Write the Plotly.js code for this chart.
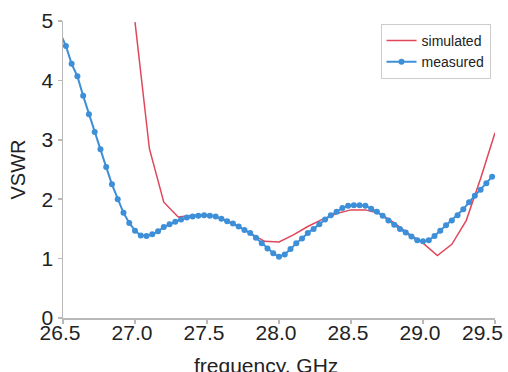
<!DOCTYPE html>
<html>
<head>
<meta charset="utf-8">
<script src="https://cdn.plot.ly/plotly-3.0.1.min.js"></script>
<style>
html,body{margin:0;padding:0;background:#fff;}
#chart{width:508px;height:372px;}
</style>
</head>
<body>
<div id="chart"></div>
<script>
// Simulated VSWR (GHz, value)
const simFreq = [27.0, 27.1, 27.2, 27.3, 27.4, 27.5, 27.6, 27.7, 27.8, 27.9, 28.0, 28.1, 28.2, 28.3, 28.4, 28.5, 28.6, 28.7, 28.8, 28.9, 29.0, 29.1, 29.2, 29.3, 29.4, 29.5];
const simVSWR = [4.98, 2.85, 1.95, 1.70, 1.73, 1.74, 1.68, 1.57, 1.43, 1.29, 1.28, 1.40, 1.54, 1.66, 1.76, 1.82, 1.82, 1.76, 1.60, 1.42, 1.26, 1.05, 1.24, 1.64, 2.35, 3.12];

// Measured VSWR (GHz, value)
const measFreq = [26.48, 26.52, 26.56, 26.60, 26.64, 26.68, 26.72, 26.76, 26.80, 26.84,
                  26.88, 26.92, 26.96, 27.00, 27.04, 27.08, 27.12, 27.16, 27.20, 27.24,
                  27.28, 27.32, 27.36, 27.40, 27.44, 27.48, 27.52, 27.56, 27.60, 27.64,
                  27.68, 27.72, 27.76, 27.80, 27.84, 27.88, 27.92, 27.96, 28.00, 28.04,
                  28.08, 28.12, 28.16, 28.20, 28.24, 28.28, 28.32, 28.36, 28.40, 28.44,
                  28.48, 28.52, 28.56, 28.60, 28.64, 28.68, 28.72, 28.76, 28.80, 28.84,
                  28.88, 28.92, 28.96, 29.00, 29.04, 29.08, 29.12, 29.16, 29.20, 29.24,
                  29.28, 29.32, 29.36, 29.40, 29.44, 29.48];
const measVSWR = [4.80, 4.58, 4.28, 4.07, 3.74, 3.43, 3.13, 2.84, 2.54, 2.25,
                  2.00, 1.77, 1.60, 1.47, 1.39, 1.38, 1.41, 1.46, 1.53, 1.58,
                  1.62, 1.66, 1.69, 1.71, 1.72, 1.73, 1.72, 1.71, 1.67, 1.63,
                  1.59, 1.54, 1.48, 1.43, 1.35, 1.26, 1.17, 1.09, 1.03, 1.07,
                  1.16, 1.26, 1.34, 1.43, 1.50, 1.58, 1.66, 1.73, 1.79, 1.85,
                  1.89, 1.90, 1.90, 1.89, 1.84, 1.79, 1.72, 1.64, 1.57, 1.50,
                  1.44, 1.37, 1.31, 1.29, 1.31, 1.38, 1.47, 1.56, 1.64, 1.73,
                  1.83, 1.95, 2.06, 2.16, 2.27, 2.38];

const xTickVals = [26.5, 27.0, 27.5, 28.0, 28.5, 29.0, 29.5];
const xTickText = ['26.5', '27.0', '27.5', '28.0', '28.5', '29.0', '29.5'];
const yTickVals = [0, 1, 2, 3, 4, 5];
const xTitle = 'frequency, GHz';
const yTitle = 'VSWR';

const FONT = 'Liberation Sans, Arial, Helvetica, sans-serif';
const TXT = '#222';

const traces = [
  {
    x: simFreq, y: simVSWR, name: 'simulated', type: 'scatter', mode: 'lines',
    line: {color: '#e0475a', width: 1.5}
  },
  {
    x: measFreq, y: measVSWR, name: 'measured', type: 'scatter', mode: 'lines+markers',
    line: {color: '#3d8fd8', width: 2},
    marker: {color: '#3d8fd8', size: 6}
  }
];

const axisCommon = {
  showgrid: false, zeroline: false, showline: true,
  linecolor: '#b8b8b8', linewidth: 1.5,
  ticks: 'outside', ticklen: 4, tickcolor: '#b8b8b8', tickwidth: 1.5,
  tickfont: {family: FONT, size: 21, color: TXT}
};

// last x tick label drawn as an annotation so it stays inside the picture
const lastTickText = xTickText[xTickText.length - 1];
const shownTickText = xTickText.map((t, i) => i === xTickText.length - 1 ? '' : t);

const layout = {
  width: 508, height: 372,
  margin: {l: 63, r: 13, t: 21, b: 54},
  paper_bgcolor: '#fff', plot_bgcolor: '#fff',
  showlegend: true,
  legend: {
    x: 0.735, y: 0.99, xanchor: 'left', yanchor: 'top',
    bgcolor: '#fff', bordercolor: '#cccccc', borderwidth: 1,
    font: {family: FONT, size: 14, color: TXT},
    itemwidth: 30, tracegroupgap: 0
  },
  xaxis: Object.assign({}, axisCommon, {
    range: [26.5, 29.5], tickvals: xTickVals, ticktext: shownTickText,
    ticklabelstandoff: -9, ticklabelshift: -3
  }),
  yaxis: Object.assign({}, axisCommon, {
    range: [0, 5], tickvals: yTickVals,
    title: {text: yTitle, font: {family: FONT, size: 20, color: TXT}, standoff: 10}
  }),
  annotations: [
    {
      text: lastTickText, xref: 'paper', yref: 'paper',
      x: 1.0231, y: 0, xanchor: 'right', yanchor: 'top', yshift: -1,
      showarrow: false, font: {family: FONT, size: 21, color: TXT}
    },
    {
      text: xTitle, xref: 'paper', yref: 'paper',
      x: 0.47, y: 0, xanchor: 'center', yanchor: 'top', yshift: -34,
      showarrow: false, font: {family: FONT, size: 21, color: TXT}
    }
  ]
};

Plotly.newPlot('chart', traces, layout, {staticPlot: true, displayModeBar: false});
</script>
</body>
</html>
